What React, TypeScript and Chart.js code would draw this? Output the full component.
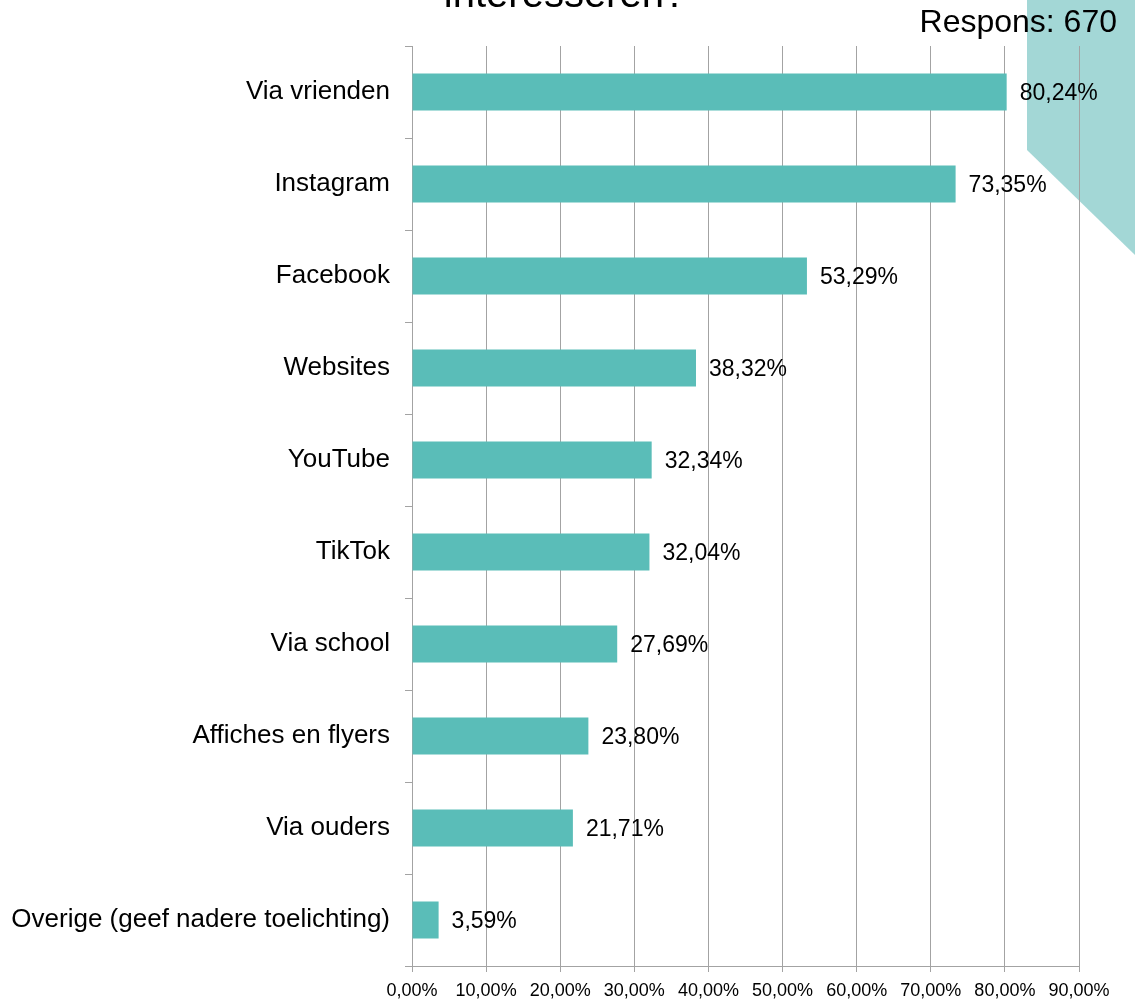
import React, { useEffect, useRef } from "react";
import { Chart, registerables } from "chart.js";

Chart.register(...registerables);

const categories = [
  "Via vrienden",
  "Instagram",
  "Facebook",
  "Websites",
  "YouTube",
  "TikTok",
  "Via school",
  "Affiches en flyers",
  "Via ouders",
  "Overige (geef nadere toelichting)",
];
const values = [80.24, 73.35, 53.29, 38.32, 32.34, 32.04, 27.69, 23.8, 21.71, 3.59];
const titleText = "interesseren?";
const responsText = "Respons: 670";

const FONT = "'Liberation Sans', Arial, sans-serif";
const BAR = "#5ABDB8";
const SHAPE = "#A3D7D6";
const GRID = "#A3A3A3";

const fmt = (v: number) => v.toFixed(2).replace(".", ",") + "%";

const backgroundPlugin = {
  id: "bgShape",
  beforeDraw(chart: any) {
    const ctx = chart.ctx;
    ctx.save();
    ctx.fillStyle = "#ffffff";
    ctx.fillRect(0, 0, chart.width, chart.height);
    ctx.fillStyle = SHAPE;
    ctx.beginPath();
    ctx.moveTo(1027, 0);
    ctx.lineTo(1135, 0);
    ctx.lineTo(1135, 255);
    ctx.lineTo(1027, 150);
    ctx.closePath();
    ctx.fill();
    ctx.restore();
  },
  afterDraw(chart: any) {
    const ctx = chart.ctx;
    ctx.save();
    ctx.fillStyle = "#000";
    ctx.font = `40px ${FONT}`;
    ctx.textAlign = "center";
    ctx.textBaseline = "alphabetic";
    ctx.fillText(titleText, 565, 7);
    ctx.font = `32px ${FONT}`;
    ctx.textAlign = "right";
    ctx.textBaseline = "middle";
    ctx.fillText(responsText, 1117, 23);
    ctx.restore();
  },
};

const labelPlugin = {
  id: "valueLabels",
  afterDatasetsDraw(chart: any) {
    const ctx = chart.ctx;
    const meta = chart.getDatasetMeta(0);
    ctx.save();
    ctx.fillStyle = "#000";
    ctx.font = `23px ${FONT}`;
    ctx.textAlign = "left";
    ctx.textBaseline = "middle";
    meta.data.forEach((el: any, i: number) => {
      ctx.fillText(fmt(values[i]), el.x + 13, el.y + 2);
    });
    ctx.restore();
  },
};

export default function App() {
  const ref = useRef<HTMLCanvasElement>(null);
  useEffect(() => {
    if (!ref.current) return;
    const chart = new Chart(ref.current, {
      type: "bar",
      data: {
        labels: categories,
        datasets: [
          {
            data: values,
            backgroundColor: BAR,
            borderWidth: 0,
            barPercentage: 0.4,
            categoryPercentage: 1,
          },
        ],
      },
      options: {
        indexAxis: "y",
        responsive: false,
        animation: false,
        layout: { padding: { top: 46, right: 56, left: 0, bottom: 0 } },
        plugins: { legend: { display: false }, tooltip: { enabled: false } },
        scales: {
          x: {
            min: 0,
            max: 90,
            ticks: {
              stepSize: 10,
              color: "#000",
              font: { family: FONT, size: 18 },
              padding: 8,
              maxRotation: 0,
              callback: (v: any) => Number(v).toFixed(2).replace(".", ",") + "%",
            },
            grid: { color: GRID, lineWidth: 1, tickLength: 6, drawTicks: true },
            border: { color: GRID },
            afterFit: (s: any) => {
              s.height = 34;
            },
          },
          y: {
            ticks: {
              color: "#000",
              font: { family: FONT, size: 26 },
              padding: 15,
              autoSkip: false,
            },
            grid: { color: GRID, drawOnChartArea: false, tickLength: 7, offset: true },
            border: { color: GRID },
            afterFit: (s: any) => {
              s.width = 412;
            },
          },
        },
      },
      plugins: [backgroundPlugin, labelPlugin],
    });
    return () => chart.destroy();
  }, []);
  return (
    <div style={{ position: "absolute", left: 0, top: 0, width: 1135, height: 1000 }}>
      <canvas ref={ref} width={1135} height={1000} style={{ width: 1135, height: 1000 }} />
    </div>
  );
}
